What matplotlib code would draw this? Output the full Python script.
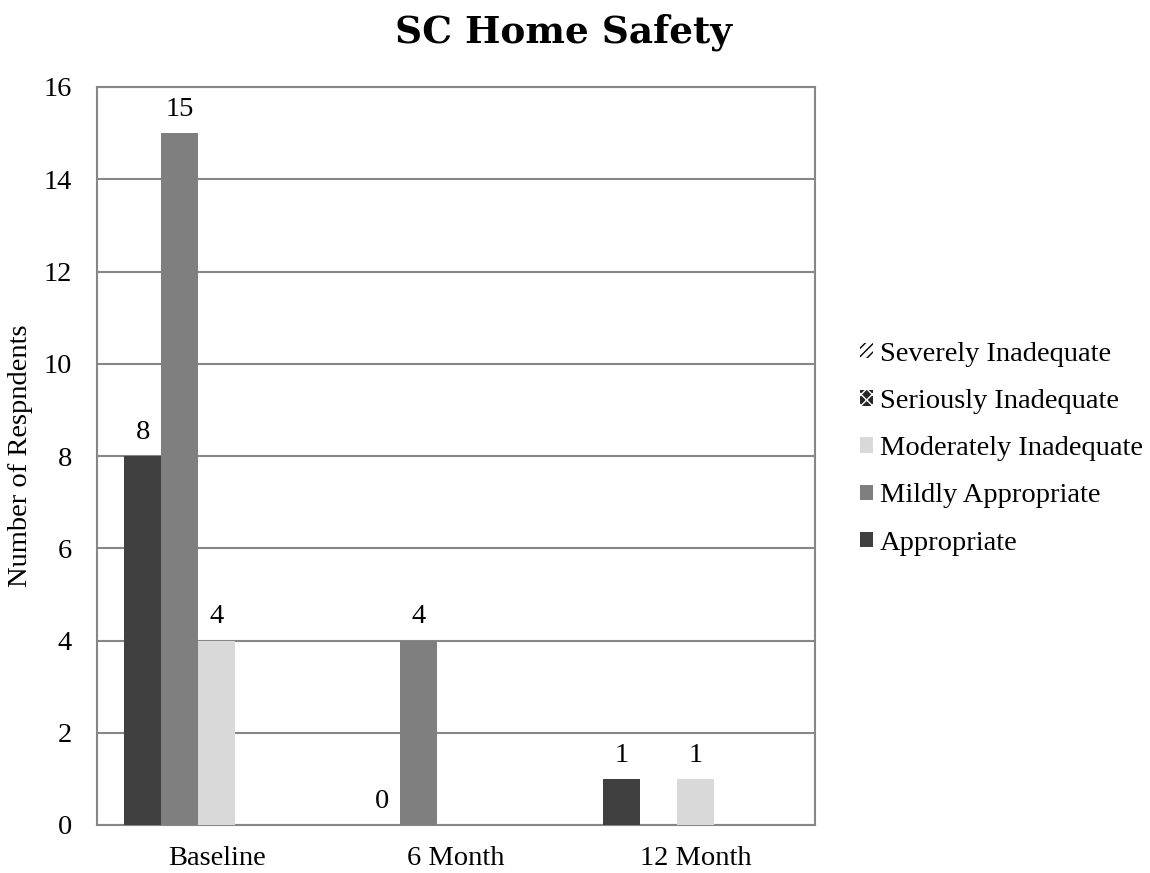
import numpy as np
import matplotlib
matplotlib.use("Agg")
import matplotlib.pyplot as plt
from matplotlib.patches import Patch

categories = ["Baseline", "6 Month", "12 Month"]
series_names = ["Appropriate", "Mildly Appropriate", "Moderately Inadequate",
                "Seriously Inadequate", "Severely Inadequate"]
appropriate = [8, 0, 1]
mildly = [15, 4, np.nan]
moderately = [4, np.nan, 1]
seriously = [np.nan, np.nan, np.nan]
severely = [np.nan, np.nan, np.nan]
series_values = [appropriate, mildly, moderately, seriously, severely]
y_ticks = [0, 2, 4, 6, 8, 10, 12, 14, 16]

colors = ["#404040", "#7f7f7f", "#d9d9d9", "#262626", "#ffffff"]
hatches = [None, None, None, "xxx", "////"]

plt.rcParams['font.family'] = ['Liberation Serif', 'DejaVu Serif']
plt.rcParams['hatch.linewidth'] = 1.0
FS = 20.5

fig = plt.figure(figsize=(11.5, 8.73), dpi=100)
ax = fig.add_axes([97/1150, 1-825/873, (815-97)/1150, (825-87)/873])

x = np.arange(len(categories))
w = 0.1546
for i, (name, vals) in enumerate(zip(series_names, series_values)):
    vals = np.array(vals, dtype=float)
    ax.bar(x + (i-2)*w, np.nan_to_num(vals), w, color=colors[i],
           label=name, zorder=3, linewidth=0)
    for xi, v in zip(x, vals):
        if not np.isnan(v):
            ax.annotate(f"{int(v)}", (xi + (i-2)*w, v), xytext=(0, 17),
                        textcoords="offset points", ha="center", va="center",
                        fontsize=FS)

ax.set_xlim(-0.5, 2.5)
ax.set_ylim(0, 16)
ax.set_yticks(y_ticks)
ax.set_xticks(x)
ax.set_xticklabels(categories)
ax.tick_params(axis='both', length=0, labelsize=FS)
ax.tick_params(axis='y', pad=18)
ax.tick_params(axis='x', pad=15)
ax.yaxis.grid(True, color="#868686", linewidth=1.5, zorder=0)
for s in ax.spines.values():
    s.set_color("#868686")
    s.set_linewidth(1.5)
ax.set_ylabel("Number of Respndents", fontsize=FS, labelpad=8)

fig.text(0.49, 0.963, "SC Home Safety", ha="center", va="center",
         fontsize=27, fontweight="bold", family=['DejaVu Serif'])

handles = []
for i in reversed(range(5)):
    handles.append(Patch(facecolor=colors[i], hatch=hatches[i],
                         edgecolor="white" if i == 3 else ("black" if i == 4 else colors[i]),
                         linewidth=0, label=series_names[i]))
fig.legend(handles=handles, loc="center left", bbox_to_anchor=(0.748, 0.486),
           frameon=False, fontsize=FS, handlelength=0.45, handleheight=0.45,
           handletextpad=0.25, labelspacing=0.78, borderpad=0, borderaxespad=0)

fig.savefig("out.png", dpi=100)
